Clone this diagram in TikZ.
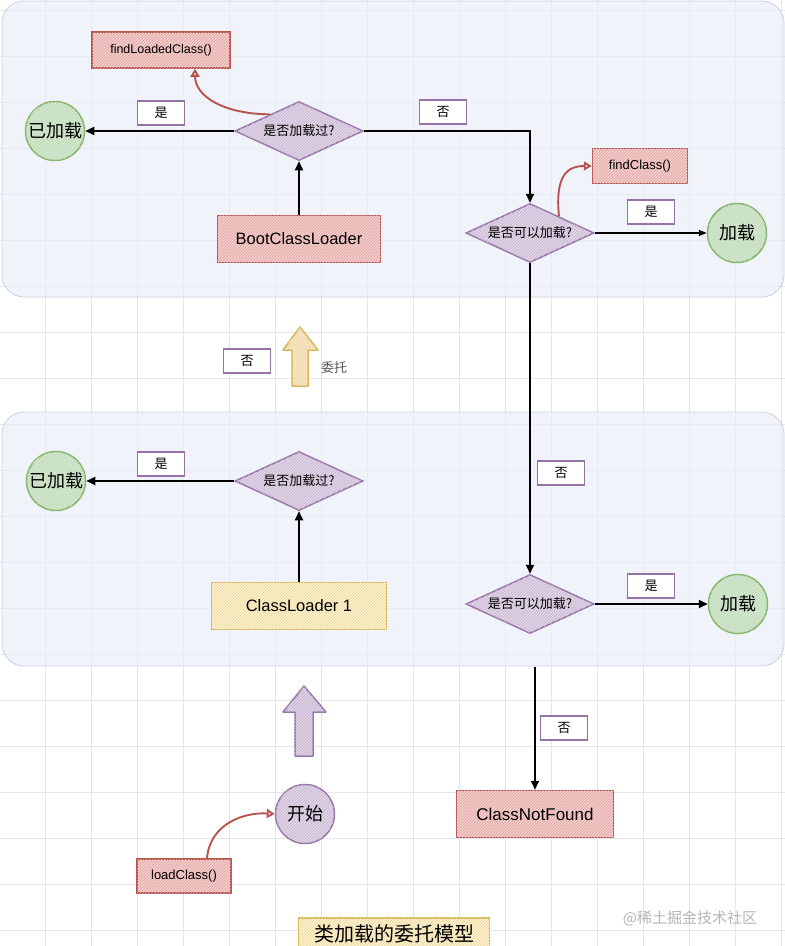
\documentclass[tikz,border=0pt]{standalone}
\usepackage{fontspec}
\setmainfont{Liberation Sans}
\newfontfamily\cjk{Noto Sans CJK SC}
\usetikzlibrary{shapes.geometric,arrows.meta,patterns}
\usepackage{xcolor}
\definecolor{edgered}{HTML}{B85450}
\definecolor{fillred}{HTML}{F8CECC}
\definecolor{edgegreen}{HTML}{82B366}
\definecolor{fillgreen}{HTML}{D5E8D4}
\definecolor{edgepurple}{HTML}{9673A6}
\definecolor{fillpurple}{HTML}{E1D5E7}
\definecolor{edgeyellow}{HTML}{D6B656}
\definecolor{fillyellow}{HTML}{FFF2CC}
\definecolor{fillorange}{HTML}{FFE6CC}
\definecolor{panelfill}{HTML}{E9EEF7}
\definecolor{panelline}{HTML}{C8D2E3}
\definecolor{gridline}{HTML}{E4E6EC}
\definecolor{textgrey}{HTML}{555555}
\definecolor{markgrey}{HTML}{B5B5B5}

\begin{document}
\begin{tikzpicture}[x=1pt, y=-1pt,
  panel/.style={draw=panelline, fill=panelfill, fill opacity=0.7, line width=0.8pt, rounded corners=22pt},
  hatch/.style={postaction={pattern=north east lines, pattern color=#1}},
  redbox/.style={rectangle, draw=edgered, fill=fillred, line width=1.5pt, hatch=edgered!55, inner sep=0pt},
  yellowbox/.style={rectangle, draw=edgeyellow, fill=fillyellow, line width=1.5pt, hatch=edgeyellow!55, inner sep=0pt},
  endcircle/.style={circle, draw=edgegreen, fill=fillgreen, line width=1.5pt, hatch=edgegreen!55,
                    minimum size=59pt, inner sep=0pt, font=\cjk\fontsize{18}{18}\selectfont},
  question/.style={diamond, aspect=2.1, draw=edgepurple, fill=fillpurple, line width=1.5pt, hatch=edgepurple!55,
                   minimum width=128pt, minimum height=59pt, inner sep=0pt, font=\cjk\fontsize{13}{13}\selectfont},
  answer/.style={rectangle, draw=edgepurple, fill=white, line width=1.3pt,
                 minimum width=47pt, minimum height=24pt, inner sep=0pt, font=\cjk\fontsize{13}{13}\selectfont},
  flow/.style={draw=black, line width=1.8pt, -{Triangle[length=9pt,width=8pt]}},
  thinflow/.style={draw=black, line width=1.1pt, -{Triangle[length=8pt,width=6pt]}},
  callflow/.style={draw=edgered, line width=1.9pt, -{Triangle[open,length=8pt,width=9pt]}}]

  \useasboundingbox (0,0) rectangle (785,946);
  \clip (0,0) rectangle (785,946);

  % Background grid
  \foreach \gx in {45,91,...,781} \draw[gridline, line width=0.6pt] (\gx,0) -- (\gx,946);
  \foreach \gy in {10,56,...,930} \draw[gridline, line width=0.6pt] (0,\gy) -- (785,\gy);

  % Upper panel (BootClassLoader)
  \draw[panel] (2,1) rectangle (784,297);
  \node[redbox, minimum width=138pt, minimum height=36pt, font=\fontsize{12.5}{13}\selectfont]
        (flc) at (161,50) {findLoadedClass()};
  \node[endcircle] (done1) at (55,131) {已加载};
  \node[question] (q1) at (299,131) {是否加载过?};
  \node[redbox, minimum width=163pt, minimum height=47pt, font=\fontsize{16.5}{17}\selectfont]
        (boot) at (299,239) {BootClassLoader};
  \node[answer] (y1) at (161,113) {是};
  \node[answer] (n1) at (443,112) {否};
  \node[question] (c1) at (530,233) {是否可以加载?};
  \node[redbox, minimum width=95pt, minimum height=35pt, font=\fontsize{13}{13}\selectfont]
        (fc) at (640,166) {findClass()};
  \node[answer] (y2) at (651,212) {是};
  \node[endcircle] (load1) at (737,233) {加载};

  % Delegation step
  \node[answer] (n2) at (247,361) {否};
  \draw[draw=edgeyellow, fill=fillorange, line width=1.5pt, line join=round, hatch=edgeyellow!60]
        (292,386) -- (292,350) -- (283,350) -- (300,327) -- (318,350) -- (308,350) -- (308,386) -- cycle;
  \node[font=\cjk\fontsize{13}{13}\selectfont, text=textgrey] (dlg) at (334,368) {委托};

  % Lower panel (ClassLoader 1)
  \draw[panel] (2,412) rectangle (784,666);
  \node[endcircle] (done2) at (56,481) {已加载};
  \node[answer] (y3) at (161,464) {是};
  \node[question] (q2) at (299,481) {是否加载过?};
  \node[yellowbox, minimum width=175pt, minimum height=47pt, font=\fontsize{16.5}{17}\selectfont]
        (cl1) at (299,606) {ClassLoader 1};
  \node[answer] (n3) at (561,473) {否};
  \node[question] (c2) at (530,604) {是否可以加载?};
  \node[answer] (y4) at (651,586) {是};
  \node[endcircle] (load2) at (738,604) {加载};

  % Entry point
  \draw[draw=edgepurple, fill=fillpurple, line width=1.5pt, line join=round, hatch=edgepurple!60]
        (295,756) -- (295,712) -- (283,712) -- (304,686) -- (326,712) -- (313,712) -- (313,756) -- cycle;
  \node[circle, draw=edgepurple, fill=fillpurple, line width=1.5pt, hatch=edgepurple!55,
        minimum size=59pt, inner sep=0pt, font=\cjk\fontsize{18}{18}\selectfont] (start) at (305,814) {开始};
  \node[redbox, minimum width=94pt, minimum height=34pt, font=\fontsize{13}{13}\selectfont]
        (lc) at (184,876) {loadClass()};
  \node[answer] (n4) at (564,728) {否};
  \node[redbox, minimum width=157pt, minimum height=47pt, font=\fontsize{17}{17}\selectfont]
        (cnf) at (535,814) {ClassNotFound};
  \coordinate (exit) at (535,667);

  % Title and mark
  \node[yellowbox, anchor=north, minimum width=191pt, text height=24pt, text depth=10pt,
        font=\cjk\fontsize{20}{20}\selectfont] (title) at (394,917) {类加载的委托模型};
  \node[font=\cjk\fontsize{15}{15}\selectfont, text=markgrey] (mark) at (690,918) {@稀土掘金技术社区};

  % Connectors
  \draw[flow] (q1.west) -- (done1.east);
  \draw[flow] (boot.north) -- (q1.south);
  \draw[flow] (q1.east) -| (c1.north);
  \draw[thinflow] (c1.east) -- (load1.west);
  \draw[flow] (c1.south) -- (c2.north);
  \draw[flow] (q2.west) -- (done2.east);
  \draw[flow] (cl1.north) -- (q2.south);
  \draw[flow] (c2.east) -- (load2.west);
  \draw[flow] (exit) -- (cnf.north);

  % Method calls
  \draw[callflow] (q1.150) .. controls +(-45,0) and +(0,28) .. ([xshift=34pt]flc.south);
  \draw[callflow] (c1.30) .. controls +(-4,-40) and +(-25,0) .. (fc.west);
  \draw[callflow] ([xshift=23pt]lc.north) .. controls +(3,-35) and +(-30,-2) .. (start.west);
\end{tikzpicture}
\end{document}
